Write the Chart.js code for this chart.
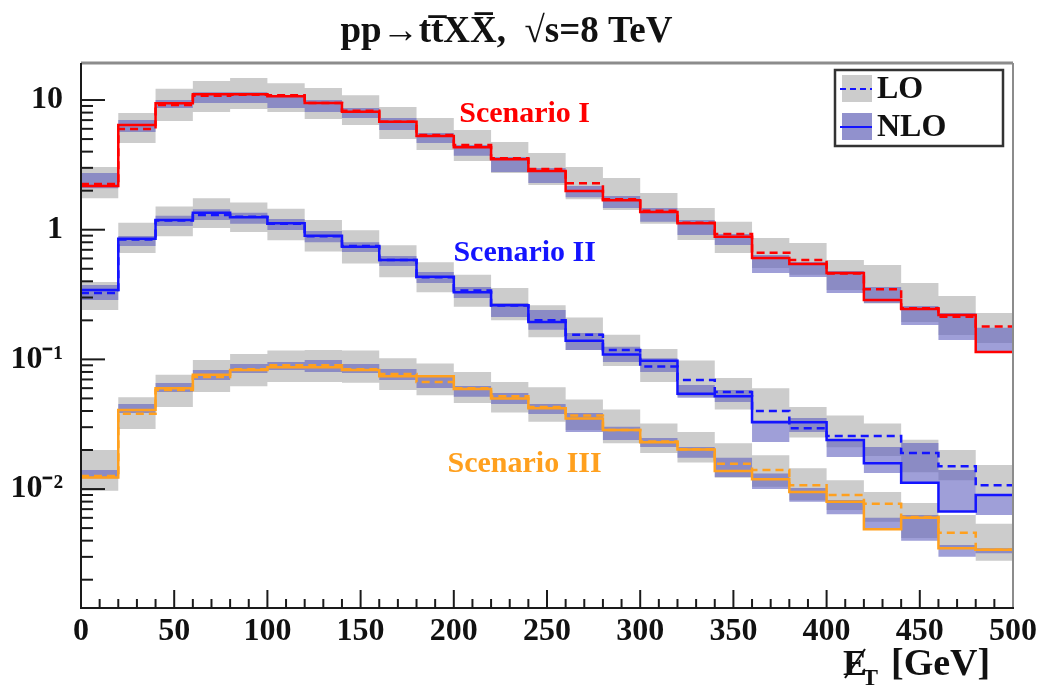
<!DOCTYPE html>
<html>
<head>
<meta charset="utf-8">
<title>pp -> ttXX missing ET</title>
<script src="https://cdn.jsdelivr.net/npm/chart.js@4.4.1/dist/chart.umd.min.js"></script>
<style>
    html, body { margin: 0; padding: 0; background: #fff; }
    #wrap { width: 1038px; height: 691px; position: relative; }
</style>
</head>
<body>
<div id="wrap"><canvas id="etChart"></canvas></div>
<script>
// bin edges in GeV (25 bins of 20 GeV)
const binEdges = [0, 20, 40, 60, 80, 100, 120, 140, 160, 180, 200, 220, 240, 260, 280, 300, 320, 340, 360, 380, 400, 420, 440, 460, 480, 500];
const xTickLabels = [0, 50, 100, 150, 200, 250, 300, 350, 400, 450, 500];
const yTickValues = [10, 1, 0.1, 0.01];
const yTickLabels = ['10', '1', '10\u207B\u00B9', '10\u207B\u00B2'];

// Scenario I (red)
const s1Lo    = [2.25, 5.97, 9.15, 10.8, 11.0, 10.9, 9.5, 8.27, 6.8, 5.37, 4.50, 3.55, 2.94, 2.28, 1.72, 1.40, 1.13, 0.927, 0.665, 0.584, 0.46, 0.347, 0.248, 0.213, 0.179];
const s1LoUp  = [3.04, 7.94, 12.2, 14.0, 14.8, 13.5, 12.4, 10.9, 8.83, 7.27, 5.87, 4.75, 3.90, 3.04, 2.51, 1.92, 1.47, 1.15, 0.863, 0.789, 0.584, 0.534, 0.388, 0.308, 0.228];
const s1LoDn  = [1.75, 4.66, 6.89, 8.08, 8.53, 8.08, 7.14, 6.41, 5.00, 4.11, 3.39, 2.74, 2.21, 1.72, 1.42, 1.11, 0.833, 0.661, 0.507, 0.45, 0.343, 0.27, 0.194, 0.154, 0.134];
const s1Nlo   = [2.17, 6.41, 9.43, 11.07, 11.07, 10.7, 9.48, 8.13, 6.80, 5.27, 4.32, 3.49, 2.84, 1.99, 1.69, 1.37, 1.12, 0.883, 0.605, 0.544, 0.464, 0.287, 0.245, 0.220, 0.114];
const s1NloUp = [2.74, 7.01, 10.0, 11.5, 11.5, 10.9, 10.0, 8.67, 7.26, 5.57, 4.50, 3.64, 2.99, 2.17, 1.82, 1.47, 1.19, 0.927, 0.638, 0.564, 0.48, 0.362, 0.258, 0.228, 0.175];
const s1NloDn = [2.09, 5.67, 8.67, 9.48, 9.5, 8.67, 8.08, 7.26, 5.87, 4.66, 3.71, 2.79, 2.29, 1.78, 1.47, 1.15, 0.91, 0.762, 0.464, 0.432, 0.325, 0.272, 0.184, 0.141, 0.114];

// Scenario II (blue)
const s2Lo    = [0.325, 0.84, 1.18, 1.30, 1.26, 1.11, 0.89, 0.75, 0.584, 0.43, 0.34, 0.26, 0.20, 0.155, 0.118, 0.088, 0.0694, 0.056, 0.040, 0.0295, 0.0256, 0.0256, 0.019, 0.015, 0.0107];
const s2LoUp  = [0.395, 1.13, 1.51, 1.75, 1.62, 1.45, 1.19, 0.99, 0.76, 0.56, 0.45, 0.355, 0.262, 0.21, 0.155, 0.12, 0.098, 0.072, 0.06, 0.043, 0.037, 0.032, 0.024, 0.020, 0.0153];
const s2LoDn  = [0.24, 0.66, 0.89, 1.03, 0.96, 0.83, 0.68, 0.55, 0.43, 0.33, 0.255, 0.20, 0.148, 0.118, 0.089, 0.067, 0.052, 0.041, 0.034, 0.025, 0.021, 0.018, 0.0135, 0.0117, 0.0091];
const s2Nlo   = [0.343, 0.85, 1.19, 1.35, 1.25, 1.12, 0.90, 0.74, 0.584, 0.434, 0.33, 0.262, 0.194, 0.139, 0.109, 0.0975, 0.0544, 0.052, 0.0328, 0.0328, 0.0239, 0.0158, 0.0112, 0.0067, 0.0090];
const s2NloUp = [0.374, 0.894, 1.28, 1.44, 1.35, 1.21, 0.977, 0.80, 0.627, 0.472, 0.362, 0.272, 0.24, 0.16, 0.125, 0.102, 0.0635, 0.0581, 0.0341, 0.0353, 0.0239, 0.0211, 0.0227, 0.0140, 0.0090];
const s2NloDn = [0.287, 0.749, 1.07, 1.19, 1.11, 0.995, 0.80, 0.672, 0.525, 0.388, 0.298, 0.212, 0.169, 0.118, 0.0955, 0.080, 0.0505, 0.047, 0.0231, 0.0276, 0.0177, 0.0133, 0.0111, 0.00666, 0.0063];

// Scenario III (orange)
const s3Lo    = [0.0126, 0.038, 0.058, 0.073, 0.084, 0.090, 0.090, 0.084, 0.077, 0.067, 0.060, 0.052, 0.043, 0.037, 0.0286, 0.0233, 0.0203, 0.0157, 0.0140, 0.0107, 0.0090, 0.0077, 0.0061, 0.0046, 0.0034];
const s3LoUp  = [0.020, 0.051, 0.076, 0.099, 0.11, 0.117, 0.118, 0.117, 0.102, 0.093, 0.08, 0.067, 0.061, 0.049, 0.041, 0.032, 0.0275, 0.0226, 0.0182, 0.0145, 0.0117, 0.0095, 0.0078, 0.0063, 0.0054];
const s3LoDn  = [0.0097, 0.029, 0.043, 0.056, 0.062, 0.067, 0.067, 0.066, 0.058, 0.053, 0.046, 0.039, 0.033, 0.0286, 0.0226, 0.019, 0.016, 0.0122, 0.0104, 0.0082, 0.0069, 0.0056, 0.0042, 0.0035, 0.0028];
const s3Nlo   = [0.0123, 0.0407, 0.060, 0.076, 0.083, 0.087, 0.087, 0.083, 0.074, 0.074, 0.059, 0.050, 0.042, 0.035, 0.0286, 0.023, 0.0202, 0.0138, 0.0119, 0.0095, 0.0080, 0.0049, 0.0060, 0.0035, 0.0034];
const s3NloUp = [0.0140, 0.0453, 0.0658, 0.0828, 0.092, 0.0955, 0.0989, 0.092, 0.0843, 0.0745, 0.0624, 0.0551, 0.0453, 0.0386, 0.0302, 0.0248, 0.0211, 0.0174, 0.0132, 0.0102, 0.00824, 0.0060, 0.0063, 0.0037, 0.0035];
const s3NloDn = [0.0121, 0.0386, 0.0561, 0.0694, 0.0785, 0.0828, 0.080, 0.0785, 0.0694, 0.0602, 0.0514, 0.0453, 0.0379, 0.0276, 0.0239, 0.0211, 0.0174, 0.0124, 0.0100, 0.0080, 0.0064, 0.00484, 0.0040, 0.0030, 0.0032];

const RED = 'rgb(255, 0, 0)';
const BLUE = 'rgb(20, 20, 255)';
const ORANGE = 'rgb(255, 160, 30)';
const GREY_BAND = 'rgb(204, 204, 204)';
const NLO_BAND = 'rgba(95, 95, 190, 0.6)';
const SERIF = '"Liberation Serif", "Times New Roman", serif';

// histogram step points: one point per left edge, last value repeated at 500
function steps(vals) {
    return binEdges.map((x, i) => ({ x: x, y: vals[Math.min(i, vals.length - 1)] }));
}

function band(up, dn, color, order) {
    return [
        { data: steps(up), stepped: true, borderWidth: 0, borderColor: 'rgba(0,0,0,0)', pointRadius: 0, fill: false, order: order },
        { data: steps(dn), stepped: true, borderWidth: 0, borderColor: 'rgba(0,0,0,0)', pointRadius: 0, fill: '-1', backgroundColor: color, order: order }
    ];
}

function histLine(vals, color, dashed) {
    return {
        data: steps(vals), stepped: true, borderColor: color, borderWidth: 2.5,
        borderDash: dashed ? [8, 5] : [], pointRadius: 0, fill: false, order: 0
    };
}

const datasets = [].concat(
    histLine(s1Nlo, RED, false), histLine(s1Lo, RED, true),
    histLine(s2Nlo, BLUE, false), histLine(s2Lo, BLUE, true),
    histLine(s3Nlo, ORANGE, false), histLine(s3Lo, ORANGE, true),
    band(s1NloUp, s1NloDn, NLO_BAND, 1),
    band(s2NloUp, s2NloDn, NLO_BAND, 1),
    band(s3NloUp, s3NloDn, NLO_BAND, 1),
    band(s1LoUp, s1LoDn, GREY_BAND, 2),
    band(s2LoUp, s2LoDn, GREY_BAND, 2),
    band(s3LoUp, s3LoDn, GREY_BAND, 2)
);

// frame, inner ticks, scenario labels, legend and x title
const decorations = {
    id: 'decorations',
    afterDatasetsDraw(chart) {
        const ctx = chart.ctx;
        const a = chart.chartArea;
        const xs = chart.scales.x;
        const ys = chart.scales.y;
        function seg(x1, y1, x2, y2) {
            ctx.beginPath(); ctx.moveTo(x1, y1); ctx.lineTo(x2, y2); ctx.stroke();
        }
        ctx.save();

        // top / right frame (grey), left / bottom axes (black)
        ctx.strokeStyle = '#8c8c8c';
        ctx.lineWidth = 3;
        seg(a.left, a.top, a.right, a.top);
        ctx.lineWidth = 2;
        seg(a.right, a.top, a.right, a.bottom);
        ctx.strokeStyle = '#1a1a1a';
        ctx.lineWidth = 2;
        seg(a.left, a.top, a.left, a.bottom + 1);
        seg(a.left - 1, a.bottom, a.right + 1, a.bottom);

        // x ticks every 10 GeV, long ones at the labels
        for (let v = 10; v < 500; v += 10) {
            const px = xs.getPixelForValue(v);
            seg(px, a.bottom, px, a.bottom - (v % 50 === 0 ? 18 : 9));
        }
        // y ticks: decades long, 2..9 short
        for (let e = -3; e <= 1; e++) {
            for (let k = 1; k <= 9; k++) {
                const v = k * Math.pow(10, e);
                if (v < ys.min || v > ys.max) continue;
                const py = ys.getPixelForValue(v);
                seg(a.left, py, a.left + (k === 1 ? 24 : 12), py);
            }
        }

        // scenario labels
        ctx.font = 'bold 30px ' + SERIF;
        ctx.textAlign = 'center';
        ctx.textBaseline = 'middle';
        ctx.fillStyle = RED;
        ctx.fillText('Scenario I', xs.getPixelForValue(238), ys.getPixelForValue(7.7));
        ctx.fillStyle = BLUE;
        ctx.fillText('Scenario II', xs.getPixelForValue(238), ys.getPixelForValue(0.66));
        ctx.fillStyle = ORANGE;
        ctx.fillText('Scenario III', xs.getPixelForValue(238), ys.getPixelForValue(0.0154));

        // legend box
        const lx = a.right - 178, ly = a.top + 7, lw = 168, lh = 76;
        ctx.fillStyle = '#fff';
        ctx.fillRect(lx, ly, lw, lh);
        ctx.strokeStyle = '#333';
        ctx.lineWidth = 2.5;
        ctx.strokeRect(lx, ly, lw, lh);
        ctx.fillStyle = GREY_BAND;
        ctx.fillRect(lx + 7, ly + 5, 30, 27);
        ctx.fillStyle = 'rgb(145, 145, 205)';
        ctx.fillRect(lx + 7, ly + 43, 30, 27);
        ctx.strokeStyle = BLUE;
        ctx.lineWidth = 2;
        ctx.setLineDash([6, 4]);
        seg(lx + 5, ly + 19, lx + 37, ly + 19);
        ctx.setLineDash([]);
        seg(lx + 5, ly + 57, lx + 37, ly + 57);
        ctx.fillStyle = '#111';
        ctx.textAlign = 'left';
        ctx.font = 'bold 32px ' + SERIF;
        ctx.fillText('LO', lx + 42, ly + 20);
        ctx.fillText('NLO', lx + 42, ly + 58);

        ctx.restore();
    },
    afterDraw(chart) {
        // x axis title: missing E_T [GeV]
        const ctx = chart.ctx;
        const a = chart.chartArea;
        ctx.save();
        ctx.fillStyle = '#111';
        ctx.textBaseline = 'alphabetic';
        ctx.textAlign = 'left';
        const x0 = a.right - 170, base = 675;
        ctx.font = 'bold 36px ' + SERIF;
        ctx.fillText('E', x0, base);
        const ew = ctx.measureText('E').width;
        ctx.strokeStyle = '#111';
        ctx.lineWidth = 2;
        ctx.beginPath();
        ctx.moveTo(x0 + 2, base + 3);
        ctx.lineTo(x0 + ew - 2, base - 26);
        ctx.stroke();
        ctx.font = 'bold 24px ' + SERIF;
        ctx.fillText('T', x0 + ew - 5, base + 10);
        ctx.font = 'bold 38px ' + SERIF;
        ctx.fillText('[GeV]', x0 + 48, base);
        ctx.restore();
    }
};

const ctx = document.getElementById('etChart').getContext('2d');
const etChart = new Chart(ctx, {
    type: 'line',
    data: { datasets: datasets },
    options: {
        responsive: true,
        maintainAspectRatio: false,
        animation: false,
        layout: { padding: { left: 0, right: 25, top: 0, bottom: 0 } },
        plugins: {
            legend: { display: false },
            tooltip: { enabled: false },
            title: {
                display: true,
                text: 'pp\u2192tt\u0305XX\u0305,  \u221As=8 TeV',
                color: '#111',
                font: { family: SERIF, size: 37, weight: 'bold' },
                padding: { top: 10, bottom: 8.6 }
            }
        },
        scales: {
            x: {
                type: 'linear',
                min: 0,
                max: 500,
                grid: { display: false },
                border: { display: false },
                afterFit: function(scale) {
                    scale.height = 83;
                    scale.paddingLeft = 0;
                    scale.paddingRight = 0;
                },
                afterBuildTicks: function(scale) {
                    scale.ticks = xTickLabels.map(v => ({ value: v }));
                },
                ticks: {
                    autoSkip: false,
                    maxRotation: 0,
                    padding: -3,
                    color: '#111',
                    font: { family: SERIF, size: 32, weight: 'bold' }
                }
            },
            y: {
                type: 'logarithmic',
                min: 0.00121,
                max: 19.3,
                grid: { display: false },
                border: { display: false },
                afterFit: function(scale) {
                    scale.width = 81;
                    scale.paddingTop = 0;
                    scale.paddingBottom = 0;
                },
                afterBuildTicks: function(scale) {
                    scale.ticks = yTickValues.map(v => ({ value: v }));
                },
                ticks: {
                    autoSkip: false,
                    padding: 10,
                    color: '#111',
                    font: { family: SERIF, size: 32, weight: 'bold' },
                    callback: function(value) {
                        const i = yTickValues.indexOf(value);
                        return i >= 0 ? yTickLabels[i] : '';
                    }
                }
            }
        }
    },
    plugins: [decorations]
});
</script>
</body>
</html>
